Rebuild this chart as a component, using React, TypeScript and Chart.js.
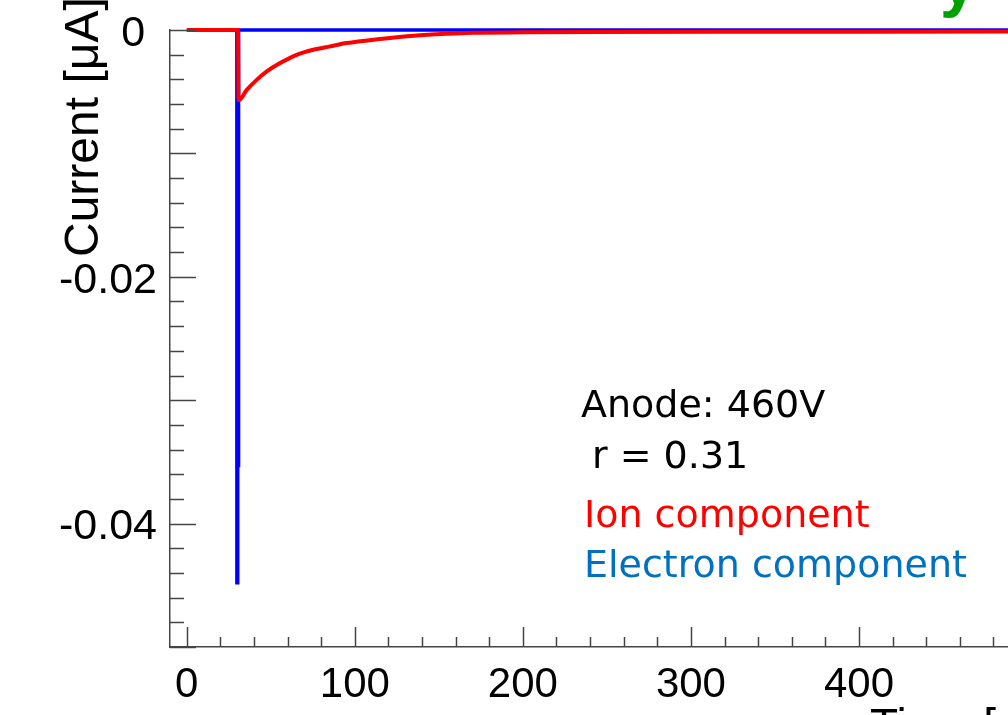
import React, { useEffect, useRef } from "react";
import { Chart, registerables } from "chart.js";

Chart.register(...registerables);

// ---- data ----
const ionTime = [0, 30.5, 30.8, 35.7, 41.6, 47.6, 55.5, 65.4, 75.3, 85.2, 95.2, 115, 135, 155, 170, 200, 240, 317, 400, 500];
const ionCurrent = [0, 0, -0.0057, -0.00485, -0.00404, -0.00336, -0.00268, -0.00201, -0.0016, -0.00133, -0.00106, -0.00073, -0.00046, -0.0003, -0.00022, -0.00019, -0.00017, -0.00015, -0.00014, -0.00013];

const electronTime = [0, 29.8, 29.8, 30.3, 30.3, 30.8, 30.8, 500];
const electronCurrent = [0, 0, -0.0448, -0.0448, -0.0353, -0.0353, 0, 0];

const xLabelValues = [0, 100, 200, 300, 400];
const yLabelValues = [0, -0.02, -0.04];
const yLabelTexts = ["0 ", "-0.02", "-0.04"];

const xMin = -10;
const xMax = 500;
const yMin = -0.05;
const yMax = 0;
const xMinorStep = 20;
const xMajorStep = 100;
const yMinorStep = 0.002;
const yMajorEvery = 5;

const yTitle = "Current [\u03bcA]";
const xTitle = "Time [ns]";
const greenTitle = "y";
const annotationTexts = ["Anode: 460V", "r = 0.31", "Ion component", "Electron component"];
const annotationColors = ["#000000", "#000000", "#ff0000", "#0070c0"];

const decorPlugin = {
  id: "rootDecor",
  afterDraw(chart: any) {
    const ctx = chart.ctx as CanvasRenderingContext2D;
    const xs = chart.scales.x;
    const ys = chart.scales.y;
    const area = chart.chartArea;
    ctx.save();
    ctx.strokeStyle = "#444444";
    ctx.lineWidth = 1.5;
    // x ticks (inside, upward)
    const nX = Math.round((xMax - 0) / xMinorStep);
    for (let i = 0; i <= nX; i++) {
      const v = i * xMinorStep;
      const px = Math.round(xs.getPixelForValue(v)) + 0.5;
      const len = v % xMajorStep === 0 ? 20 : 10;
      ctx.beginPath();
      ctx.moveTo(px, area.bottom);
      ctx.lineTo(px, area.bottom - len);
      ctx.stroke();
    }
    // y ticks (inside, rightward)
    const nY = Math.round((yMax - yMin) / yMinorStep);
    for (let i = 0; i <= nY; i++) {
      const v = yMax - i * yMinorStep;
      const py = Math.round(ys.getPixelForValue(v)) + 0.5;
      const len = i % yMajorEvery === 0 ? 26 : 14;
      ctx.beginPath();
      ctx.moveTo(area.left, py);
      ctx.lineTo(area.left + len, py);
      ctx.stroke();
    }

    // y axis title
    ctx.fillStyle = "#000000";
    ctx.font = '48px "Liberation Sans", Arial, sans-serif';
    ctx.textAlign = "left";
    ctx.textBaseline = "alphabetic";
    ctx.save();
    ctx.translate(98, 257);
    ctx.rotate(-Math.PI / 2);
    ctx.fillText(yTitle, 0, 0);
    ctx.restore();

    // x axis title (mostly cut off)
    ctx.font = '46px "Liberation Sans", Arial, sans-serif';
    ctx.fillText(xTitle, 870, 741);

    // green title fragment
    ctx.fillStyle = "#00a000";
    ctx.font = 'bold 66px "Liberation Sans", Arial, sans-serif';
    ctx.fillText(greenTitle, 940, 4);

    // annotations
    ctx.font = '38px "DejaVu Sans", sans-serif';
    const pos = [
      [581, 417],
      [592, 468],
      [584, 527],
      [584, 577],
    ];
    annotationTexts.forEach((t, i) => {
      ctx.fillStyle = annotationColors[i];
      ctx.fillText(t, pos[i][0], pos[i][1]);
    });
    ctx.restore();
  },
};

export default function App() {
  const ref = useRef<HTMLCanvasElement | null>(null);

  useEffect(() => {
    document.body.style.margin = "0";
    document.body.style.overflow = "hidden";
    const canvas = ref.current;
    if (!canvas) return;
    const chart = new Chart(canvas, {
      type: "line",
      data: {
        datasets: [
          {
            label: "Ion component",
            data: ionTime.map((t, i) => ({ x: t, y: ionCurrent[i] })),
            borderColor: "#ff0000",
            borderWidth: 4,
            pointRadius: 0,
            tension: 0.3,
            cubicInterpolationMode: "monotone",
            fill: false,
            clip: 6,
          },
          {
            label: "Electron component",
            data: electronTime.map((t, i) => ({ x: t, y: electronCurrent[i] })),
            borderColor: "#0000ff",
            borderWidth: 3.5,
            pointRadius: 0,
            tension: 0,
            fill: false,
            clip: 6,
          },
        ],
      },
      options: {
        animation: false,
        responsive: false,
        maintainAspectRatio: false,
        devicePixelRatio: 1,
        layout: { padding: { top: 30, left: 0, right: 0, bottom: 0 } },
        plugins: {
          legend: { display: false },
          tooltip: { enabled: false },
          title: { display: false },
        },
        scales: {
          x: {
            type: "linear",
            position: "bottom",
            min: xMin,
            max: xMax,
            grid: { display: false },
            border: { display: true, color: "#444444", width: 1.5 },
            afterBuildTicks: (s: any) => {
              s.ticks = xLabelValues.map((v) => ({ value: v }));
            },
            afterFit: (s: any) => {
              s.height = 68;
              s.paddingLeft = 0;
              s.paddingRight = 0;
            },
            ticks: {
              autoSkip: false,
              maxRotation: 0,
              color: "#000000",
              padding: 5,
              font: { family: '"Liberation Sans", Arial, sans-serif', size: 42 },
              callback: (v: any) => String(v),
            },
          },
          y: {
            type: "linear",
            position: "left",
            min: yMin,
            max: yMax,
            grid: { display: false },
            border: { display: true, color: "#444444", width: 1.5 },
            afterBuildTicks: (s: any) => {
              s.ticks = yLabelValues.map((v) => ({ value: v }));
            },
            afterFit: (s: any) => {
              s.width = 170;
              s.paddingTop = 0;
              s.paddingBottom = 0;
            },
            ticks: {
              autoSkip: false,
              color: "#000000",
              padding: 5,
              labelOffset: 4,
              font: { family: '"Liberation Sans", Arial, sans-serif', size: 43 },
              callback: (v: any) => {
                const idx = yLabelValues.findIndex((l) => Math.abs(l - Number(v)) < 1e-9);
                return idx >= 0 ? yLabelTexts[idx] : "";
              },
            },
          },
        },
      },
      plugins: [decorPlugin],
    } as any);
    return () => chart.destroy();
  }, []);

  return (
    <div
      style={{
        position: "fixed",
        left: 0,
        top: 0,
        width: 1008,
        height: 715,
        overflow: "hidden",
        background: "#ffffff",
      }}
    >
      <canvas ref={ref} width={1027} height={715} style={{ display: "block" }} />
    </div>
  );
}
